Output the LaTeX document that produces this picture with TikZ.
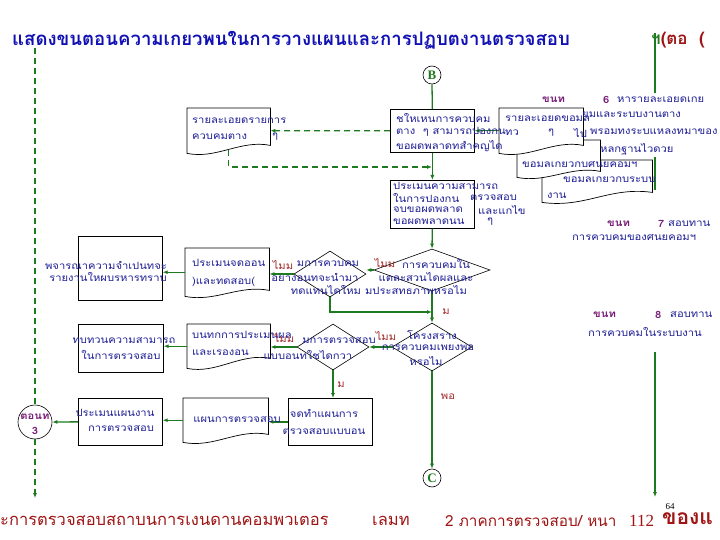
\documentclass[tikz,border=0pt]{standalone}
\usepackage{fontspec}
\newfontfamily\thai[Script=Thai]{Loma}
\newfontfamily\thaiw[Script=Thai,FakeStretch=1.12]{Loma}
\newfontfamily\serifL{Liberation Serif}
\usetikzlibrary{arrows.meta,shapes.geometric,calc}
\definecolor{grn}{HTML}{1E7A1E}
\definecolor{navy}{HTML}{1E1E96}
\definecolor{ttl}{HTML}{1010B4}
\definecolor{lbl}{HTML}{A02828}
\definecolor{purp}{HTML}{781E78}
\definecolor{ftr}{HTML}{A01414}
\tikzset{
 tx/.style={inner sep=0, anchor=west, text=navy, font=\thaiw\fontsize{10}{12}\selectfont},
 txc/.style={tx, anchor=center},
 lb/.style={inner sep=0, text=lbl, font=\thaiw\fontsize{10}{12}\selectfont},
 stp/.style={inner sep=0, anchor=west, text=purp, font=\thaiw\bfseries\fontsize{10}{12}\selectfont},
 box/.style={draw=black, line width=0.7pt, fill=white, inner sep=0, anchor=north west},
 ghost/.style={draw=none, inner sep=0, anchor=north west},
 docline/.style={draw=black, line width=0.7pt, fill=white},
 dia/.style={diamond, draw=black, line width=0.6pt, fill=white, inner sep=0},
 ring/.style={circle, draw=black, line width=0.6pt, fill=white, inner sep=0},
 gl/.style={draw=grn, line width=1.3pt},
 ga/.style={gl, -{Latex[length=5pt,width=4pt]}},
 gd/.style={gl, dash pattern=on 6pt off 4pt},
 gda/.style={gd, -{Latex[length=5pt,width=4pt]}},
 foot/.style={inner sep=0, anchor=west, text=ftr, font=\thai\fontsize{16.5}{19}\selectfont},
}
\newcommand\docshape[2][6]{%
 \path[docline] (#2.north west) -- (#2.north east) -- ($(#2.south east)+(0,-#1)$)
  .. controls ($(#2.south)+(12,-#1-6)$) and ($(#2.south)+(-12,6)$) .. (#2.south west) -- cycle;}
\begin{document}
\begin{tikzpicture}[x=1pt,y=-1pt]
\useasboundingbox[fill=white] (0,0) rectangle (720,540);

% ---------- shapes ----------
\node[ghost, minimum width=83, minimum height=45] (D1) at (187,108) {};
\docshape[8]{D1}
\node[box, minimum width=84, minimum height=43] (b1) at (390,109) {};
\node[ghost, minimum width=110, minimum height=42] (D4) at (542,160) {};
\docshape[10]{D4}
\node[ghost, minimum width=83, minimum height=37] (D3) at (517,140) {};
\docshape[6]{D3}
\node[ghost, minimum width=84, minimum height=45] (D2) at (499,108) {};
\docshape[8]{D2}
\node[box, minimum width=84, minimum height=48] (b2) at (390,180) {};
\node[dia, minimum width=116, minimum height=42] (d2) at (432,270) {};
\node[dia, minimum width=72, minimum height=46] (d1) at (330,274) {};
\node[ghost, minimum width=84, minimum height=48] (D5) at (185,248) {};
\docshape[6]{D5}
\node[box, minimum width=84, minimum height=64] (B3) at (78,236) {};
\node[dia, minimum width=80, minimum height=48] (d4) at (432,347) {};
\node[dia, minimum width=72, minimum height=46] (d3) at (333,347) {};
\node[ghost, minimum width=83, minimum height=44] (D6) at (187,324) {};
\docshape[10]{D6}
\node[box, minimum width=85, minimum height=48] (B4) at (78,324) {};
\node[box, minimum width=84, minimum height=47] (B6) at (288,398) {};
\node[ghost, minimum width=85, minimum height=44] (D7) at (183,398) {};
\docshape[8]{D7}
\node[box, minimum width=84, minimum height=47] (B5) at (78,398) {};
\node[ring, minimum size=34] (c3) at (35,422) {};
\node[ring, minimum size=18] (Bc) at (432,75) {};
\node[ring, minimum size=18] (Cc) at (432,478) {};

\coordinate (j1) at (432,167);
\coordinate (j2) at (432,312);
\coordinate (lt) at (35,48);
\coordinate (lb) at (35,498);
\coordinate (r1) at (655,33);
\coordinate (r2) at (655,93);
\coordinate (r3) at (655,157);
\coordinate (r4) at (655,190);
\coordinate (r5) at (655,352);
\coordinate (r6) at (655,497);

% ---------- connectors ----------
\draw[gl] (Bc.south) -- (b1.north);
\draw[ga] (b1.south) -- (b2.north);
\draw[ga] (D2.west) -- (D2.west -| b1.east);
\draw[gda] (b1.west) -- (D1.east);
\draw[gda] ($(D1.south)+(0,-3)$) |- (j1);
\draw[ga] (b2.south) -- (d2.north);
\draw[ga] (d2.west) -- (d2.west -| d1.east);
\draw[ga] (d1.west) -- (d1.west -| D5.east);
\draw[ga] (D5.west) -- (D5.west -| B3.east);
\draw[ga] (d1.south) |- (j2);
\draw[ga] (d2.south) -- (d4.north);
\draw[ga] (d4.west) -- (d3.east);
\draw[ga] (d3.west) -- (d3.west -| D6.east);
\draw[ga] (D6.west) -- (D6.west -| B4.east);
\draw[ga] (d3.south) -- (d3.south |- B6.north);
\draw[ga] (B6.west) -- (B6.west -| D7.east);
\draw[ga] (D7.west) -- (D7.west -| B5.east);
\draw[ga] (B5.west) -- (c3.east);
\draw[ga] (d4.south) -- (Cc.north);
\draw[gd] (lt) -- (c3.north);
\draw[gda] (c3.south) -- (lb);
\draw[gl] (r1) -- (r2);
\draw[gl] (r3) -- (r4);
\draw[ga] (r5) -- (r6);

% ---------- circle letters ----------
\node[inner sep=0, text=grn, font=\serifL\bfseries\fontsize{13}{13}\selectfont] (tB) at (Bc) {B};
\node[inner sep=0, text=grn, font=\serifL\bfseries\fontsize{13}{13}\selectfont] (tC) at (Cc) {C};
\node[stp, anchor=center] (tc3a) at (35,417) {ตอนท};
\node[stp, anchor=center] (tc3b) at (35,431) {3};

% ---------- title ----------
\node[inner sep=0, anchor=west, text=ttl, font=\thai\bfseries\fontsize{18.6}{21}\selectfont] (title) at (12,40) {แสดงขนตอนความเกยวพนในการวางแผนและการปฏบตงานตรวจสอบ};
\node[inner sep=0, anchor=west, font=\thai\bfseries\fontsize{17}{19}\selectfont] (cont) at (651,40) {\textcolor{grn}{ฯ}\textcolor{ftr}{(ตอ\ \ (}};

% ---------- texts ----------
\node[tx] (t1a) at (192,121) {รายละเอยดรายการ};
\node[tx] (t1b) at (192,137) {ควบคมตาง};
\node[tx] (t1c) at (272,137) {ๆ};
\node[tx] (t2a) at (396,118) {ชใหเหนการควบคม};
\node[tx] (t2b) at (396,132) {ตาง \ ๆ สามารถปองกน};
\node[tx] (t2c) at (396,146) {ขอผดพลาดทสำคญได};
\node[tx] (t3a) at (505,119) {รายละเอยดขอมล};
\node[tx] (t3b) at (505,133) {ทว};
\node[tx] (t3c) at (548,133) {ๆ};
\node[tx] (t3d) at (574,133) {ไป};
\node[tx] (t4a) at (522,165) {ขอมลเกยวกบศนยคอมฯ};
\node[tx] (t5a) at (563,180) {ขอมลเกยวกบระบบ};
\node[tx] (t5b) at (547,196) {งาน};
% step 6
\node[stp] (s6a) at (542,100) {ขนท};
\node[stp] (s6b) at (603,100) {6};
\node[tx] (s6c) at (617,100) {หารายละเอยดเกย};
\node[tx] (s6d) at (582,115) {ยมและระบบงานตาง};
\node[tx] (s6e) at (590,132) {พรอมทงระบแหลงทมาของ};
\node[tx] (s6f) at (600,149) {หลกฐานไวดวย};
% step 7
\node[stp] (s7a) at (607,224) {ขนท};
\node[stp] (s7b) at (658,224) {7};
\node[tx] (s7c) at (668,224) {สอบทาน};
\node[tx] (s7d) at (572,238) {การควบคมของศนยคอมฯ};
% step 8
\node[stp] (s8a) at (593,315) {ขนท};
\node[stp] (s8b) at (655,315) {8};
\node[tx] (s8c) at (670,315) {สอบทาน};
\node[tx] (s8d) at (588,332) {การควบคมในระบบงาน};
% b2
\node[tx] (t6a) at (393,186) {ประเมนความสามารถ};
\node[tx] (t6b) at (393,198) {ในการปองกน};
\node[tx] (t6c) at (470,198) {ตรวจสอบ};
\node[tx] (t6d) at (393,210) {จบขอผดพลาด};
\node[tx] (t6e) at (478,210) {และแกไข};
\node[tx] (t6f) at (393,222) {ขอผดพลาดนน};
\node[tx] (t6g) at (487,222) {ๆ};
% d2
\node[txc] (t7a) at (436,264) {การควบคมใน};
\node[txc] (t7b) at (426,277) {แตละสวนไดผลและ};
\node[txc] (t7c) at (416,290) {มประสทธภาพหรอไม};
% d1
\node[txc] (t8a) at (328,264) {มการควบคม};
\node[txc] (t8b) at (315,277) {อยางอนทจะนำมา};
\node[txc] (t8c) at (326,290) {ทดแทนไดใหม};
% D5
\node[tx] (t9a) at (192,263) {ประเมนจดออน};
\node[tx] (t9b) at (192,282) {)และทดสอบ(};
% B3
\node[txc] (t10a) at (106,265) {พจารณาความจำเปนทจะ};
\node[txc] (t10b) at (108,277) {รายงานใหผบรหารทราบ};
% B4
\node[txc] (t11a) at (124,341) {ทบทวนความสามารถ};
\node[txc] (t11b) at (121,355) {ในการตรวจสอบ};
% D6
\node[tx] (t12a) at (192,335) {บนทกการประเมนผล};
\node[tx] (t12b) at (192,353) {และเรองอน};
% d3
\node[txc] (t13a) at (339,341) {มการตรวจสอบ};
\node[txc] (t13b) at (308,355) {แบบอนทใชไดกวา};
% d4
\node[txc] (t14a) at (432,335) {โครงสราง};
\node[txc] (t14b) at (428,348) {การควบคมเพยงพอ};
\node[txc] (t14c) at (426,361) {หรอไม};
% B6, D7, B5
\node[txc] (t15a) at (324,413) {จดทำแผนการ};
\node[txc] (t15b) at (324,432) {ตรวจสอบแบบอน};
\node[txc] (t16a) at (237,420) {แผนการตรวจสอบ};
\node[txc] (t17a) at (115,413) {ประเมนแผนงาน};
\node[txc] (t17b) at (121,429) {การตรวจสอบ};

% ---------- branch labels ----------
\node[lb] (l1) at (385,263) {ไมม};
\node[lb] (l2) at (283,265) {ไมม};
\node[lb] (l3) at (446,312) {ม};
\node[lb] (l4) at (386,336) {ไมม};
\node[lb] (l5) at (284,338) {ไมม};
\node[lb] (l6) at (341,385) {ม};
\node[lb] (l7) at (448,397) {พอ};

% ---------- footer ----------
\node[foot] (f1) at (0,521) {ะการตรวจสอบสถาบนการเงนดานคอมพวเตอร};
\node[foot] (f2) at (372,521) {เลมท};
\node[foot, font=\thai\fontsize{15.3}{18}\selectfont] (f3) at (445,521) {2 ภาคการตรวจสอบ/ หนา};
\node[inner sep=0, anchor=west, text=ftr, font=\serifL\fontsize{17}{19}\selectfont] (f4) at (629,521) {112};
\node[inner sep=0, anchor=west, text=ftr, font=\thai\bfseries\fontsize{21}{23}\selectfont] (f5) at (662,519) {ของแ};
\node[inner sep=0, text=black, font=\serifL\fontsize{9}{10}\selectfont] (f6) at (670,507) {64};
\end{tikzpicture}
\end{document}
